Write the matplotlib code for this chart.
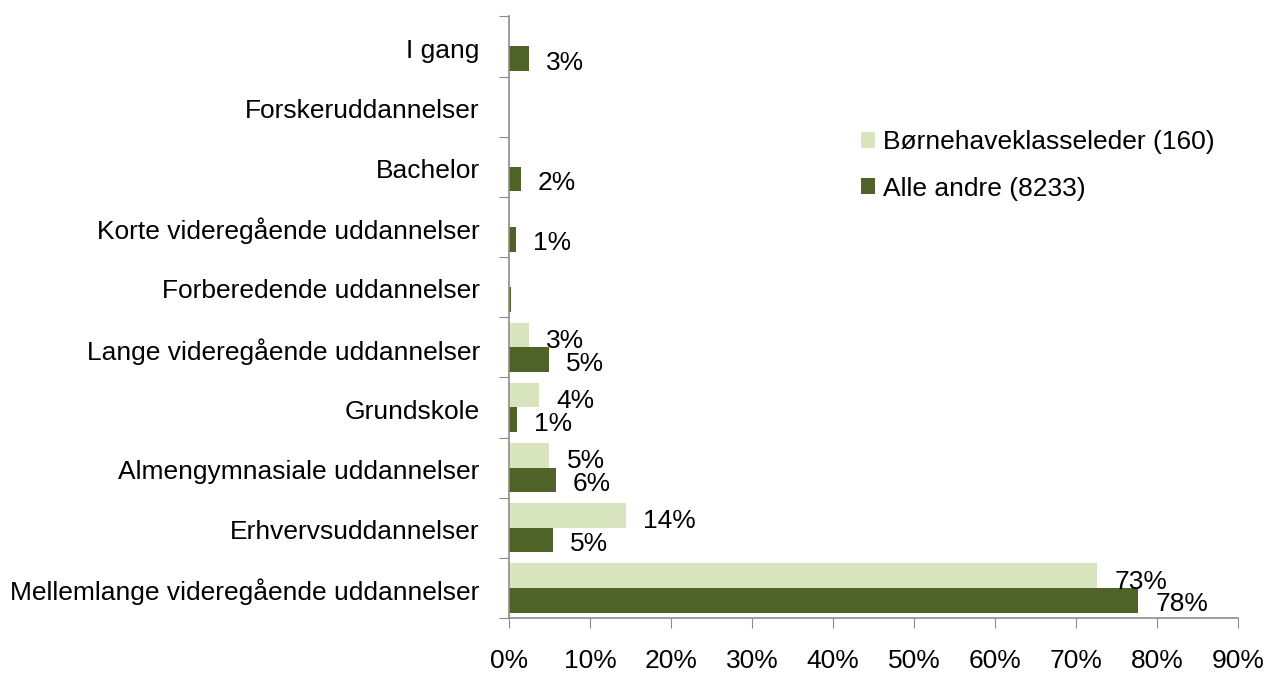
import matplotlib.pyplot as plt
import numpy as np

plt.rcParams['font.family'] = ['Liberation Sans', 'DejaVu Sans']

categories = ["Mellemlange videregående uddannelser", "Erhvervsuddannelser",
              "Almengymnasiale uddannelser", "Grundskole",
              "Lange videregående uddannelser", "Forberedende uddannelser",
              "Korte videregående uddannelser", "Bachelor",
              "Forskeruddannelser", "I gang"]
boerne = [72.6, 14.4, 5.0, 3.7, 2.5, 0, 0, 0, 0, 0]
alle = [77.7, 5.4, 5.8, 1.0, 4.9, 0.2, 0.9, 1.5, 0, 2.5]
boerne_lbl = ["73%", "14%", "5%", "4%", "3%", "", "", "", "", ""]
alle_lbl = ["78%", "5%", "6%", "1%", "5%", "", "1%", "2%", "", "3%"]

light = '#d7e4bd'
dark = '#4f6228'
grey = '#8c8c8c'

fig = plt.figure(figsize=(12.66, 6.73), dpi=100)
ax = fig.add_axes([0.402, 0.0817, 0.576, 0.894])

y = np.arange(len(categories))
h = 0.41
ax.barh(y + h / 2, boerne, height=h, color=light, label='Børnehaveklasseleder (160)')
ax.barh(y - h / 2, alle, height=h, color=dark, label='Alle andre (8233)')

for i in range(len(categories)):
    if boerne_lbl[i]:
        ax.text(boerne[i] + 2.1, y[i] + h / 2 - 0.1, boerne_lbl[i], va='center', ha='left', fontsize=19)
    if alle_lbl[i]:
        ax.text(alle[i] + 2.1, y[i] - h / 2 - 0.07, alle_lbl[i], va='center', ha='left', fontsize=19)

ax.set_xlim(0, 90)
ax.set_ylim(-0.5, len(categories) - 0.5)
ax.set_xticks(np.arange(0, 91, 10))
ax.set_xticklabels([f"{v}%" for v in range(0, 91, 10)], fontsize=19)
ax.set_yticks(np.arange(-0.5, len(categories), 1))
ax.set_yticklabels([])
ax.set_yticks(y - 0.07, minor=True)
ax.set_yticklabels(categories, minor=True, fontsize=19, va='center')

ax.tick_params(axis='x', direction='out', length=7, color=grey, pad=15)
ax.tick_params(axis='y', which='major', direction='out', length=7, color=grey)
ax.tick_params(axis='y', which='minor', length=0, pad=21)

for s in ['top', 'right']:
    ax.spines[s].set_visible(False)
for s in ['left', 'bottom']:
    ax.spines[s].set_color(grey)
    ax.spines[s].set_linewidth(1.2)

ax.legend(loc='upper left', bbox_to_anchor=(0.45, 0.85), frameon=False, fontsize=19,
          handlelength=0.55, handleheight=0.55, handletextpad=0.3, labelspacing=0.85)

fig.savefig('out.png', dpi=100)
